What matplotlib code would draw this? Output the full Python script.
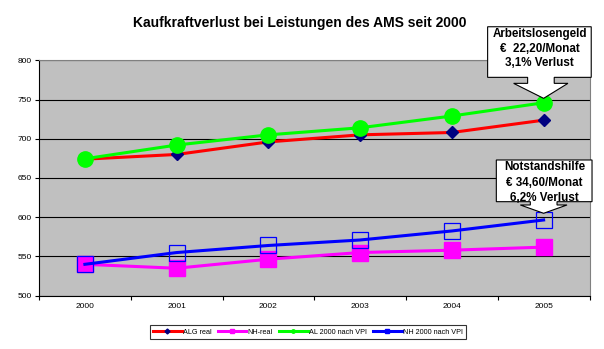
import numpy as np
import matplotlib.pyplot as plt
from matplotlib.path import Path
from matplotlib.patches import PathPatch
from matplotlib.lines import Line2D

plt.rcParams['font.family'] = ['Liberation Sans', 'DejaVu Sans']

years = ['2000', '2001', '2002', '2003', '2004', '2005']
alg_real = [674, 680, 696, 705, 708, 723.7]
nh_real = [540, 535, 546.5, 555, 558, 561.9]
al_vpi = [674.5, 692, 705, 714, 729, 745.9]
nh_vpi = [540, 555, 564, 571, 582.5, 596.5]
series_names = ['ALG real', 'NH-real', 'AL 2000 nach VPI', 'NH 2000 nach VPI']

W, H = 604, 349
fig = plt.figure(figsize=(W / 100, H / 100), dpi=100)
ax = fig.add_axes([39 / W, 1 - 295.7 / H, 550.5 / W, 235.4 / H])

x = np.arange(len(years))
ax.plot(x, alg_real, color='#FF0000', lw=2.2, marker='D', ms=6.6,
        mfc='#000080', mec='#000080')
ax.plot(x, nh_real, color='#FF00FF', lw=2.2, marker='s', ms=11,
        mfc='#FF00FF', mec='#FF00FF')
ax.plot(x, al_vpi, color='#00FF00', lw=2.2, marker='o', ms=11,
        mfc='#00FF00', mec='#00FF00')
ax.plot(x, nh_vpi, color='#0000FF', lw=2.2, marker='s', ms=11,
        mfc='none', mec='#0000FF', mew=0.9)

ax.set_facecolor('#C0C0C0')
ax.set_xlim(-0.5, 5.5)
ax.set_ylim(500, 800)
ax.set_yticks(np.arange(500, 801, 50))
ax.yaxis.grid(True, color='black', lw=0.8)
ax.set_axisbelow(True)
for side in ['top', 'right']:
    ax.spines[side].set_color('#808080')
for side in ['left', 'bottom']:
    ax.spines[side].set_color('black')
for sp in ax.spines.values():
    sp.set_linewidth(0.8)

# category ticks sit between the years, labels in the middle
ax.set_xticks(np.arange(-0.5, 6, 1))
ax.set_xticklabels([])
ax.set_xticks(x, minor=True)
ax.set_xticklabels(years, minor=True)
ax.tick_params(axis='x', which='minor', length=0, pad=5, labelsize=6)
ax.tick_params(axis='x', which='major', direction='out', length=3, width=0.8)
ax.tick_params(axis='y', direction='out', length=3, width=0.8, pad=2, labelsize=6)

fig.text(300 / W, 1 - 23 / H, 'Kaufkraftverlust bei Leistungen des AMS seit 2000',
         ha='center', va='center', fontsize=10, fontweight='bold')

handles = [
    Line2D([], [], color='#FF0000', lw=2.2, marker='D', ms=2.5, mfc='#000080', mec='#000080'),
    Line2D([], [], color='#FF00FF', lw=2.2, marker='s', ms=2.5, mfc='#FF00FF', mec='#FF00FF'),
    Line2D([], [], color='#00FF00', lw=2.2, marker='o', ms=2.5, mfc='#00FF00', mec='#00FF00'),
    Line2D([], [], color='#0000FF', lw=2.2, marker='s', ms=2.5, mfc='#0000FF', mec='#0000FF'),
]
leg = fig.legend(handles, series_names, loc='center',
                 bbox_to_anchor=(308 / W, 1 - 332 / H), ncol=4, fontsize=5.2,
                 frameon=True, fancybox=False, edgecolor='black',
                 handlelength=4.0, handletextpad=0.2, columnspacing=0.8,
                 borderpad=0.45, borderaxespad=0)
leg.get_frame().set_linewidth(0.8)


def callout(tip, lines, box, stem, head, text_dx, text_dy, fs=8.4):
    # tip: data point; box/stem/head: pixel offsets from the arrow tip (y down)
    tx, ty = ax.transData.transform(tip)
    tx, ty = tx, ty + head[2]
    L, R, T, B = box
    sl, sr = stem
    hl, hr, _, hy = head
    pts = [(L, T), (R, T), (R, B), (sr, B), (sr, hy), (hr, hy), (0, 0),
           (hl, hy), (sl, hy), (sl, B), (L, B), (L, T)]
    verts = [((tx + dx) / W, (ty - dy) / H) for dx, dy in pts]
    codes = [Path.MOVETO] + [Path.LINETO] * (len(verts) - 2) + [Path.CLOSEPOLY]
    patch = PathPatch(Path(verts, codes), facecolor='white', edgecolor='black',
                      lw=0.8, transform=fig.transFigure, zorder=5)
    fig.add_artist(patch)
    for line, dy in zip(lines, text_dy):
        t = fig.text((tx + text_dx) / W, (ty - dy) / H, line, ha='center', va='center',
                     fontsize=fs, fontweight='bold', zorder=6)
        t.set_clip_path(patch)


callout((5, al_vpi[-1]), ['Arbeitslosengeld', '€  22,20/Monat', '3,1% Verlust'],
        box=(-56, 47.6, -71.6, -21), stem=(-16, 10.6), head=(-30, 24.3, 4.4, -15),
        text_dx=-4, text_dy=(-64, -49, -35))
callout((5, nh_vpi[-1]), ['Notstandshilfe', '€ 34,60/Monat', '6,2% Verlust'],
        box=(-47.3, 48.4, -53.3, -11.6), stem=(-13.3, 13.4), head=(-23.3, 23.4, 6.7, -8.3),
        text_dx=0.7, text_dy=(-46, -30, -15.6))

fig.savefig('out.png', dpi=100)
